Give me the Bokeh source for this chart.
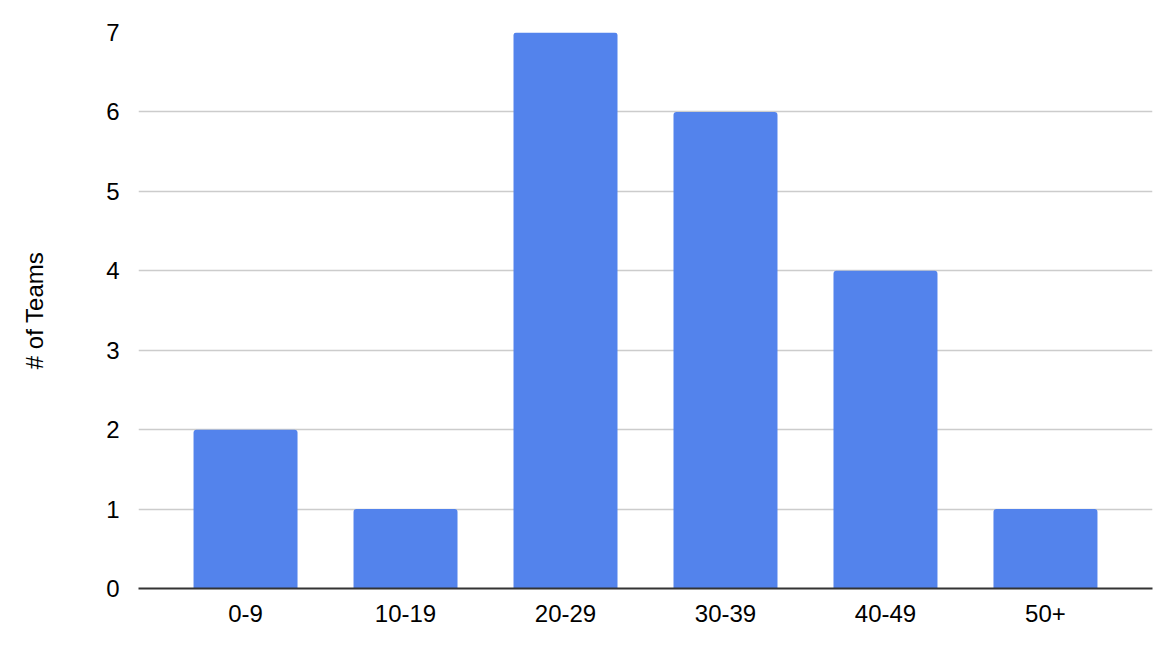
from bokeh.plotting import figure
from bokeh.models import FactorRange, Range1d, FixedTicker, ColumnDataSource
from bokeh.embed import file_html
from bokeh.resources import INLINE

categories = ["0-9", "10-19", "20-29", "30-39", "40-49", "50+"]
teams = [2, 1, 7, 6, 4, 1]
y_ticks = [0, 1, 2, 3, 4, 5, 6, 7]

src = ColumnDataSource(data=dict(cat=categories, val=teams))

p = figure(
    x_range=FactorRange(*categories, range_padding=0.169, range_padding_units="absolute"),
    y_range=Range1d(0, 7),
    width=1160, height=648,
    output_backend="svg", toolbar_location=None,
    min_border_left=138, min_border_right=8, min_border_top=32, min_border_bottom=60,
)
p.outline_line_color = None
p.background_fill_color = "white"
p.border_fill_color = "white"

p.vbar(x="cat", top="val", width=0.65, source=src, color="#5383EC",
       line_color=None, border_radius=(3, 3, 0, 0))

font = "Liberation Sans"
p.xgrid.grid_line_color = None
p.ygrid.grid_line_color = "#CCCCCC"
p.ygrid.grid_line_width = 1.3

p.yaxis.ticker = FixedTicker(ticks=y_ticks)
p.yaxis.axis_line_color = None
p.yaxis.major_tick_line_color = None
p.yaxis.minor_tick_line_color = None
p.yaxis.major_label_standoff = 13
p.yaxis.axis_label = "# of Teams"
p.yaxis.axis_label_standoff = 55
p.yaxis.axis_label_text_font_style = "normal"

p.xaxis.axis_line_color = "#333333"
p.xaxis.axis_line_width = 2
p.xaxis.major_tick_line_color = None
p.xaxis.minor_tick_line_color = None
p.xaxis.major_label_standoff = 10

for ax in (p.xaxis, p.yaxis):
    ax.major_label_text_font = font
    ax.major_label_text_font_size = "24px"
    ax.major_label_text_color = "#000000"
    ax.axis_label_text_font = font
    ax.axis_label_text_font_size = "24px"
    ax.axis_label_text_color = "#000000"

open("out.html", "w").write(file_html(p, INLINE))
